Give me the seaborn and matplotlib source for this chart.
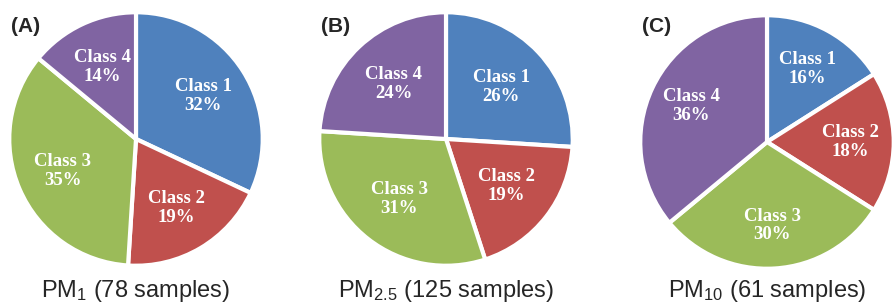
import matplotlib
matplotlib.use("Agg")
import matplotlib.pyplot as plt
import seaborn as sns

# data
classes = ["Class 1", "Class 2", "Class 3", "Class 4"]
pm1_pct = [32, 19, 35, 14]
pm25_pct = [26, 19, 31, 24]
pm10_pct = [16, 18, 30, 36]
panel_tags = ["(A)", "(B)", "(C)"]
panel_titles = ["PM$_{1}$ (78 samples)", "PM$_{2.5}$ (125 samples)", "PM$_{10}$ (61 samples)"]

sns.set_style("white")
plt.rcParams["font.family"] = ["Liberation Sans", "DejaVu Sans"]
plt.rcParams["mathtext.fontset"] = "custom"
plt.rcParams["mathtext.rm"] = "Liberation Sans"
plt.rcParams["mathtext.it"] = "Liberation Sans"

colors = ["#4F81BD", "#C0504D", "#9BBB59", "#8064A2"]

W, H = 893, 308
fig = plt.figure(figsize=(W / 100, H / 100), dpi=100)

# pie centres / radius in pixels
centres = [(136, 139), (446, 139), (767, 142)]
R = 128
label_dist = [0.63, 0.6, 0.66]

for i, values in enumerate([pm1_pct, pm25_pct, pm10_pct]):
    cx, cy = centres[i]
    ax = fig.add_axes([(cx - R) / W, 1 - (cy + R) / H, 2 * R / W, 2 * R / H])
    labels = iter([f"{c}\n{v}%" for c, v in zip(classes, values)])
    ax.pie(values, colors=colors, startangle=90, counterclock=False,
           radius=1, autopct=lambda p: next(labels), pctdistance=label_dist[i],
           wedgeprops=dict(edgecolor="white", linewidth=3),
           textprops=dict(color="white", fontsize=13.5, fontweight="bold",
                          family="Liberation Serif", linespacing=1.15))
    ax.set_xlim(-1.01, 1.01)
    ax.set_ylim(-1.01, 1.01)
    ax.set_aspect("auto")
    ax.axis("off")

    fig.text((cx - R + 3) / W, 1 - 26 / H, panel_tags[i], fontsize=15,
             fontweight="bold", ha="left", va="center")
    fig.text(cx / W, 1 - 291 / H, panel_titles[i], fontsize=17,
             ha="center", va="center")

fig.savefig("out.png", dpi=100)
